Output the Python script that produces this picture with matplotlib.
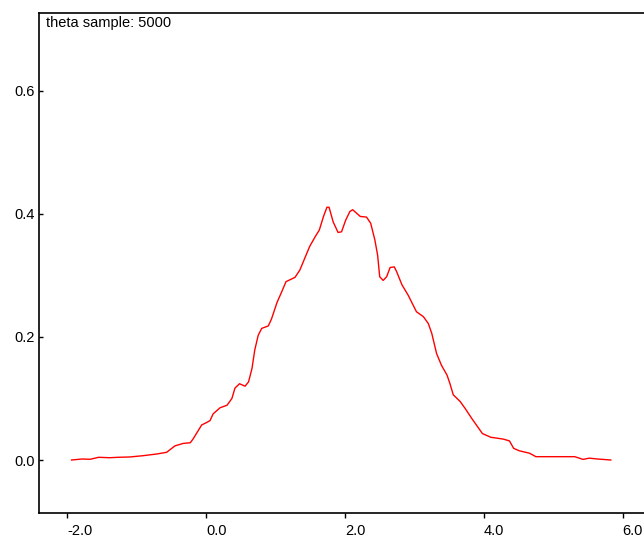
import matplotlib
matplotlib.use("Agg")
import matplotlib.pyplot as plt
from matplotlib.ticker import FormatStrFormatter

plt.rcParams['font.family'] = ['Liberation Sans', 'DejaVu Sans']
plt.rcParams['axes.unicode_minus'] = False

title_text = "theta sample: 5000"
x_ticks = [-2.0, 0.0, 2.0, 4.0, 6.0]
y_ticks = [0.0, 0.2, 0.4, 0.6]

theta = [-1.94, -1.79, -1.67, -1.55, -1.39, -1.27, -1.10, -0.91, -0.71, -0.57,
         -0.45, -0.33, -0.23, -0.19, -0.065, 0.007, 0.055, 0.10, 0.20, 0.30,
         0.37, 0.415, 0.48, 0.56, 0.61, 0.66, 0.70, 0.75, 0.80, 0.895,
         0.94, 1.02, 1.09, 1.15, 1.28, 1.35, 1.42, 1.49, 1.57, 1.63,
         1.69, 1.74, 1.77, 1.83, 1.90, 1.95, 2.01, 2.07, 2.11, 2.22,
         2.31, 2.37, 2.43, 2.47, 2.50, 2.55, 2.60, 2.65, 2.71, 2.745,
         2.82, 2.91, 3.03, 3.13, 3.20, 3.25, 3.32, 3.39, 3.47, 3.51,
         3.56, 3.66, 3.73, 3.83, 3.98, 4.10, 4.28, 4.37, 4.43, 4.51,
         4.66, 4.75, 5.31, 5.43, 5.52, 5.64, 5.83]
density = [0.000, 0.0016, 0.0012, 0.0044, 0.0037, 0.0044, 0.0049, 0.0070, 0.0098, 0.0125,
           0.023, 0.027, 0.028, 0.034, 0.057, 0.061, 0.064, 0.075, 0.085, 0.089,
           0.100, 0.117, 0.124, 0.120, 0.127, 0.149, 0.179, 0.203, 0.214, 0.218,
           0.229, 0.256, 0.274, 0.290, 0.297, 0.309, 0.328, 0.347, 0.363, 0.374,
           0.396, 0.411, 0.411, 0.387, 0.370, 0.371, 0.390, 0.404, 0.407, 0.396,
           0.395, 0.385, 0.358, 0.333, 0.298, 0.292, 0.298, 0.313, 0.314, 0.306,
           0.285, 0.268, 0.241, 0.233, 0.222, 0.206, 0.173, 0.154, 0.138, 0.125,
           0.106, 0.095, 0.084, 0.067, 0.043, 0.037, 0.034, 0.031, 0.019, 0.015,
           0.011, 0.0054, 0.0054, 0.001, 0.003, 0.0016, 0.0]

fig = plt.figure(figsize=(6.44, 5.42), dpi=100)
ax = fig.add_axes([39 / 644, (542 - 513.3) / 542, 1 - 39 / 644, (513.3 - 12.7) / 542])

ax.plot(theta, density, color='#ff0000', lw=1.0)

ax.set_xlim((39 - 206.2) / 69.4, (644 - 206.2) / 69.4)
ax.set_ylim((460 - 513.3) / 615, (460 - 12.7) / 615)

ax.set_xticks(x_ticks)
ax.set_yticks(y_ticks)
ax.xaxis.set_major_formatter(FormatStrFormatter('%.1f'))
ax.yaxis.set_major_formatter(FormatStrFormatter('%.1f'))

ax.tick_params(axis='x', direction='out', length=3.6, width=1, pad=4,
               labelsize=10.5, colors='black')
ax.tick_params(axis='y', direction='in', length=3, width=1, pad=3,
               labelsize=10.5, colors='black')
for lab in ax.get_xticklabels():
    lab.set_horizontalalignment('left')

for side in ['left', 'bottom', 'top']:
    ax.spines[side].set_linewidth(1.2)
    ax.spines[side].set_color('black')
ax.spines['right'].set_visible(False)

ax.annotate(title_text, xy=(0, 1), xycoords='axes fraction',
            xytext=(5, -2.5), textcoords='offset points',
            ha='left', va='top', fontsize=10.5, color='black')

fig.savefig('out.png', dpi=100)
